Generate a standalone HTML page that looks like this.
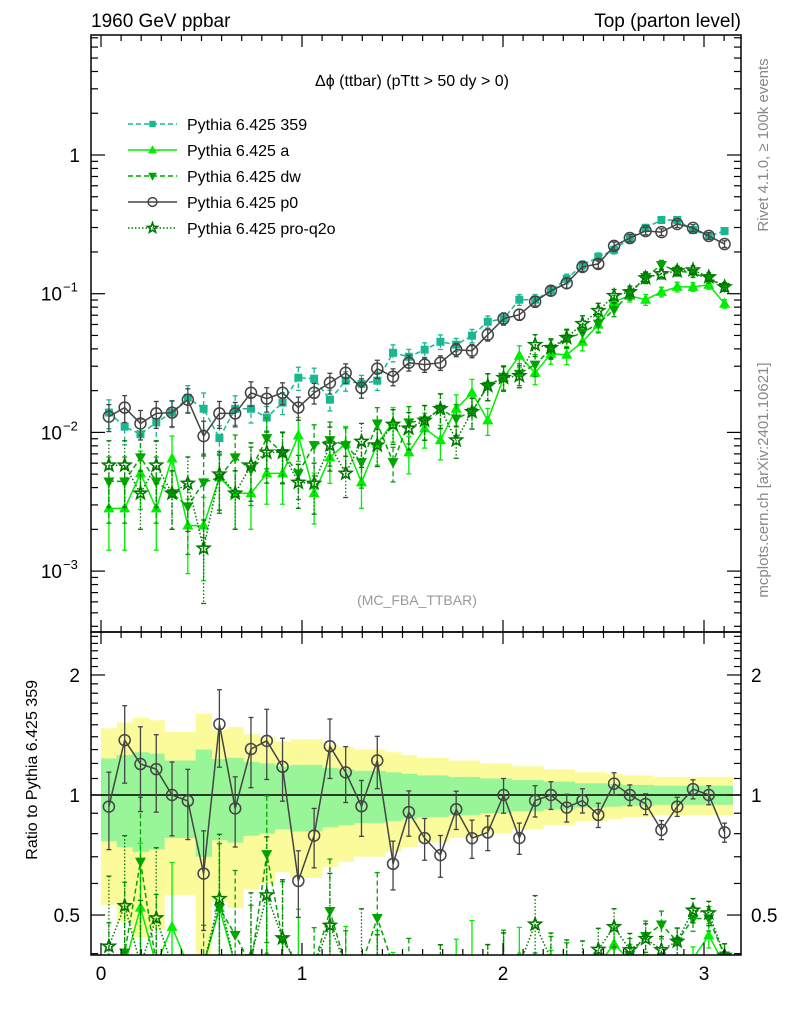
<!DOCTYPE html>
<html><head><meta charset="utf-8"><style>
html,body{margin:0;padding:0;background:#fff;width:786px;height:1024px;overflow:hidden;}
svg{display:block;font-family:"Liberation Sans",sans-serif;}
</style></head><body>
<svg id="chart" width="786" height="1024" viewBox="0 0 786 1024" xmlns="http://www.w3.org/2000/svg">
<defs>
<clipPath id="clipMain"><rect x="91" y="35" width="650" height="597"/></clipPath>
<clipPath id="clipRatio"><rect x="91" y="632" width="650" height="323"/></clipPath>
</defs>
<text x="91" y="27" font-size="19">1960 GeV ppbar</text>
<text x="741" y="27" font-size="19" text-anchor="end">Top (parton level)</text>
<text x="412" y="86" font-size="16" text-anchor="middle">Δϕ (ttbar) (pTtt &gt; 50 dy &gt; 0)</text>
<text x="417" y="605" font-size="14" fill="#999" text-anchor="middle">(MC_FBA_TTBAR)</text>
<text transform="translate(768,145) rotate(-90)" font-size="15" fill="#888" text-anchor="middle">Rivet 4.1.0, ≥ 100k events</text>
<text transform="translate(768,480) rotate(-90)" font-size="15" fill="#888" text-anchor="middle">mcplots.cern.ch [arXiv:2401.10621]</text>
<text transform="translate(37,680) rotate(-90)" font-size="16" text-anchor="end">Ratio to Pythia 6.425 359</text>
<g id="ratioLayer" clip-path="url(#clipRatio)"></g>
<g id="mainLayer" clip-path="url(#clipMain)"></g>
<g id="axes"></g>
<g id="legend"></g>
</svg>
<script>
const nBins = 40;
const xMax = Math.PI;
const v359 = [0.0139,0.011,0.0097,0.0118,0.0139,0.0178,0.0148,0.0091,0.0148,0.0148,0.0128,0.0164,0.0248,0.0244,0.0172,0.0236,0.0224,0.0236,0.0375,0.0351,0.0395,0.045,0.0429,0.0498,0.0628,0.066,0.0905,0.0905,0.105,0.128,0.161,0.184,0.207,0.252,0.298,0.340,0.340,0.288,0.261,0.283];
const vA = [0.00283,0.00283,0.00506,0.00283,0.00649,0.00213,0.00213,0.00474,0.00364,0.00364,0.00506,0.00506,0.0095,0.00364,0.0066,0.0083,0.00436,0.0083,0.0118,0.00718,0.0107,0.0088,0.0148,0.0193,0.0122,0.0248,0.0357,0.0269,0.0369,0.0363,0.045,0.0598,0.0876,0.0967,0.0905,0.103,0.112,0.112,0.116,0.0847];
const vDW = [0.00443,0.00443,0.0066,0.00443,0.00364,0.00293,0.00436,0.00474,0.0066,0.0054,0.0091,0.0071,0.00506,0.0081,0.0088,0.0081,0.0061,0.0116,0.0061,0.0118,0.0122,0.0148,0.0126,0.0141,0.0217,0.0252,0.0265,0.0308,0.040,0.0474,0.0524,0.0608,0.0767,0.100,0.132,0.161,0.146,0.141,0.128,0.112];
const vP0 = [0.0130,0.0151,0.0116,0.0137,0.0139,0.0172,0.0094,0.0137,0.0137,0.0193,0.0175,0.0193,0.0151,0.0193,0.0228,0.0269,0.0210,0.0288,0.0252,0.0318,0.0308,0.0318,0.0395,0.0388,0.0506,0.066,0.0706,0.0876,0.105,0.119,0.156,0.164,0.221,0.252,0.283,0.278,0.318,0.298,0.261,0.228];
const vQ2O = [0.0058,0.0058,0.00364,0.0058,0.00364,0.00429,0.00146,0.0050,0.00364,0.0058,0.00718,0.00718,0.00436,0.00429,0.0081,0.00506,0.0086,0.0081,0.0114,0.0107,0.0122,0.0148,0.0088,0.0141,0.0217,0.0248,0.0256,0.0429,0.0408,0.0482,0.0608,0.0754,0.0967,0.103,0.130,0.139,0.146,0.148,0.132,0.112];
const err359 = [0.235,0.26,0.28,0.27,0.22,0.22,0.30,0.23,0.24,0.21,0.20,0.18,0.19,0.19,0.17,0.16,0.15,0.15,0.14,0.13,0.12,0.12,0.11,0.11,0.10,0.10,0.09,0.09,0.08,0.08,0.07,0.07,0.065,0.06,0.06,0.055,0.055,0.055,0.055,0.055];
const errP0 = [0.22,0.22,0.24,0.22,0.21,0.2,0.28,0.22,0.2,0.2,0.2,0.18,0.19,0.17,0.17,0.16,0.16,0.15,0.14,0.13,0.12,0.12,0.11,0.11,0.10,0.10,0.09,0.09,0.08,0.08,0.07,0.07,0.065,0.06,0.06,0.055,0.055,0.055,0.055,0.055];
const errLow = [0.5,0.5,0.45,0.5,0.45,0.55,0.6,0.45,0.45,0.45,0.4,0.4,0.35,0.4,0.35,0.33,0.35,0.3,0.28,0.3,0.28,0.28,0.26,0.25,0.22,0.2,0.18,0.18,0.16,0.15,0.14,0.13,0.11,0.1,0.09,0.08,0.08,0.07,0.07,0.07];
const xTickLabels = ["0","1","2","3"];
const ratioTickLabels = ["0.5","1","2"];

const NS = "http://www.w3.org/2000/svg";
const clamp = (v, a, b) => Math.min(b, Math.max(a, v));
const X = v => 101 + v * 201;
const Y = v => clamp(155 - 138.7 * Math.log10(v), 25, 642);
const R = r => clamp(795 - 398.7 * Math.log10(r), 622, 965);
const bw = xMax / nBins;
const xc = i => (i + 0.5) * bw;
function mk(tag, attrs, parent) {
  const e = document.createElementNS(NS, tag);
  for (const k in attrs) e.setAttribute(k, attrs[k]);
  parent.appendChild(e);
  return e;
}
const mainL = document.getElementById('mainLayer');
const ratioL = document.getElementById('ratioLayer');
const axes = document.getElementById('axes');
const legend = document.getElementById('legend');

function marker(type, x, y, color, parent, s) {
  s = s || 1;
  let e;
  if (type === 'square') e = mk('rect', {x: x - 4*s, y: y - 4*s, width: 8*s, height: 8*s, fill: color}, parent);
  else if (type === 'up') e = mk('polygon', {points: `${x},${y-6*s} ${x-5.5*s},${y+4*s} ${x+5.5*s},${y+4*s}`, fill: color}, parent);
  else if (type === 'down') e = mk('polygon', {points: `${x},${y+6*s} ${x-5.5*s},${y-4*s} ${x+5.5*s},${y-4*s}`, fill: color}, parent);
  else if (type === 'circle') e = mk('circle', {cx: x, cy: y, r: 5.5*s, fill: 'none', stroke: color, 'stroke-width': 1.5}, parent);
  else {
    let pts = [];
    for (let k = 0; k < 10; k++) {
      const a = -Math.PI/2 + k*Math.PI/5, rr = (k%2 ? 2.7 : 6.5)*s;
      pts.push((x + rr*Math.cos(a)).toFixed(1) + ',' + (y + rr*Math.sin(a)).toFixed(1));
    }
    e = mk('polygon', {points: pts.join(' '), fill: 'none', stroke: color, 'stroke-width': 1.6}, parent);
  }
  return e;
}

const series = [
  {key:'359', vals:v359, err:err359, color:'#19b890', dash:'5,3', m:'square', label:'Pythia 6.425 359'},
  {key:'a', vals:vA, err:errLow, color:'#00ee00', dash:'', m:'up', label:'Pythia 6.425 a'},
  {key:'dw', vals:vDW, err:errLow, color:'#00a500', dash:'5,3', m:'down', label:'Pythia 6.425 dw'},
  {key:'p0', vals:vP0, err:errP0, color:'#444444', dash:'', m:'circle', label:'Pythia 6.425 p0'},
  {key:'q2o', vals:vQ2O, err:errLow, color:'#007700', dash:'1.5,2', m:'star', label:'Pythia 6.425 pro-q2o'}
];

for (let i = 0; i < nBins; i++) {
  const x0 = X(i*bw), x1 = X((i+1)*bw);
  const e = err359[i];
  const top = R(1+2*e), bot = R(Math.max(1-2*e,0.05));
  const yb = mk('rect', {x: x0, y: top, width: x1-x0+0.5, height: bot - top, fill: '#fbfb9c'}, ratioL);
  
  
}
for (let i = 0; i < nBins; i++) {
  const x0 = X(i*bw), x1 = X((i+1)*bw);
  const e = err359[i];
  const gb = mk('rect', {x: x0, y: R(1+e), width: x1-x0+0.5, height: R(1-e) - R(1+e), fill: '#98f598'}, ratioL);
  
  
}
const refLine = mk('line', {x1: 91, x2: 741, y1: R(1), y2: R(1), stroke: '#000', 'stroke-width': 1.5}, ratioL);



function drawSeries(s, layer, yf, valAt, errAt, isRatio) {
  const g = mk('g', {}, layer);
  
  
  for (let i = 0; i < nBins; i++) {
    const v = valAt(i), e = errAt(i);
    const x = X(xc(i));
    const lo = Math.max(v - e, 1e-6), hi = v + e;
    const eb = mk('line', {x1: x, x2: x, y1: yf(hi), y2: yf(lo), stroke: s.color, 'stroke-width': 1.3, 'stroke-dasharray': s.dash}, g);
    
    
    mk('line', {x1: x-2.5, x2: x+2.5, y1: yf(hi), y2: yf(hi), stroke: s.color, 'stroke-width': 1.3}, g);
    mk('line', {x1: x-2.5, x2: x+2.5, y1: yf(lo), y2: yf(lo), stroke: s.color, 'stroke-width': 1.3}, g);
  }
  let d = '';
  for (let i = 0; i < nBins; i++) d += (i ? 'L' : 'M') + X(xc(i)).toFixed(1) + ',' + yf(valAt(i)).toFixed(1);
  const ln = mk('path', {d: d, fill: 'none', stroke: s.color, 'stroke-width': 1.5, 'stroke-dasharray': s.dash}, g);
  
  
  for (let i = 0; i < nBins; i++) {
    const yy = yf(valAt(i));
    if (isRatio && yy > 958) continue;
    const mkr = marker(s.m, X(xc(i)), yy, s.color, g);
    
    
  }
}

series.forEach(s => drawSeries(s, mainL, Y, i => s.vals[i], i => s.vals[i]*s.err[i], false));
series.slice(1).filter(s => s.key !== 'p0').concat([series[3]]).forEach(s => {
  drawSeries(s, ratioL, R, i => s.vals[i]/v359[i], i => s.vals[i]/v359[i]*s.err[i], true);
});

const f1 = mk('rect', {x: 91, y: 35, width: 650, height: 597, fill: 'none', stroke: '#000', 'stroke-width': 1.5}, axes);


const f2 = mk('rect', {x: 91, y: 632, width: 650, height: 323, fill: 'none', stroke: '#000', 'stroke-width': 1.5}, axes);



for (let k = 0; k <= 31; k++) {
  const v = k/10, x = X(v), major = (k % 10 === 0), L = major ? 12 : 6;
  [[35,1],[632,-1],[632,1],[955,-1]].forEach(([y0,dir]) => {
    mk('line', {x1: x, x2: x, y1: y0, y2: y0 + dir*L, stroke: '#000', 'stroke-width': 1.2}, axes);
  });
}
xTickLabels.forEach((t, k) => {
  const tl = mk('text', {x: X(+t), y: 980, 'font-size': 19, 'text-anchor': 'middle'}, axes);
  tl.textContent = t;
  
  
});

for (let p = -4; p <= 0; p++) {
  for (let m = 1; m <= 9; m++) {
    const v = m * Math.pow(10, p), y = 155 - 138.7 * Math.log10(v);
    if (y < 35 || y > 632) continue;
    const L = m === 1 ? 14 : 7;
    mk('line', {x1: 91, x2: 91+L, y1: y, y2: y, stroke: '#000', 'stroke-width': 1.2}, axes);
    mk('line', {x1: 741, x2: 741-L, y1: y, y2: y, stroke: '#000', 'stroke-width': 1.2}, axes);
  }
}
const mainLabels = [[0,'1',null],[-1,'10','−1'],[-2,'10','−2'],[-3,'10','−3']];
mainLabels.forEach(([p, base, sup]) => {
  const y = Y(Math.pow(10, p)) + 7;
  const t = mk('text', {x: sup ? 62 : 80, y: y, 'font-size': 19, 'text-anchor': 'end'}, axes);
  t.textContent = base;
  
  
  if (sup) {
    const s2 = mk('text', {x: 63, y: y - 9, 'font-size': 13}, axes);
    s2.textContent = sup;
    
    
  }
});

for (let k = 4; k <= 25; k++) {
  const v = k/10, y = 795 - 398.7 * Math.log10(v);
  if (y < 632 || y > 955) continue;
  const major = (k === 5 || k === 10 || k === 20), L = major ? 14 : 7;
  mk('line', {x1: 91, x2: 91+L, y1: y, y2: y, stroke: '#000', 'stroke-width': 1.2}, axes);
  mk('line', {x1: 741, x2: 741-L, y1: y, y2: y, stroke: '#000', 'stroke-width': 1.2}, axes);
}
ratioTickLabels.forEach(t => {
  const y = R(+t) + 7;
  const a = mk('text', {x: 80, y: y, 'font-size': 19, 'text-anchor': 'end'}, axes);
  a.textContent = t;
  
  
  const b = mk('text', {x: 751, y: y, 'font-size': 19}, axes);
  b.textContent = t;
  
  
});

series.forEach((s, k) => {
  const y = 124 + k*26;
  const g = mk('g', {}, legend);
  
  
  mk('line', {x1: 128, x2: 177, y1: y, y2: y, stroke: s.color, 'stroke-width': 1.5, 'stroke-dasharray': s.dash}, g);
  marker(s.m, 152.5, y, s.color, g, 0.8);
  const t = mk('text', {x: 187, y: y + 6, 'font-size': 16}, g);
  t.textContent = s.label;
});
</script>
</body></html>
